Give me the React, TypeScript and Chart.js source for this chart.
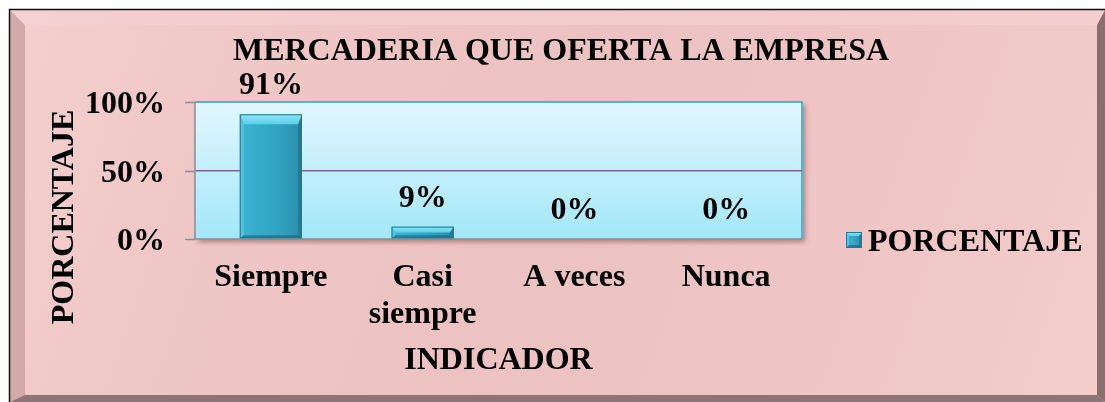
import React, { useEffect, useRef } from "react";
import { Chart, registerables } from "chart.js";

Chart.register(...registerables);

const categories: string[][] = [["Siempre"], ["Casi", "siempre"], ["A veces"], ["Nunca"]];
const porcentaje: number[] = [91, 9, 0, 0];
const valueLabels: string[] = ["91%", "9%", "0%", "0%"];
const yTicks: number[] = [0, 50, 100];
const yTickLabels: string[] = ["0%", "50%", "100%"];
const chartTitle = "MERCADERIA QUE OFERTA LA EMPRESA";
const xTitle = "INDICADOR";
const yTitle = "PORCENTAJE";
const seriesName = "PORCENTAJE";

const W = 1105;
const H = 402;
const FONT = "bold 32px 'Liberation Serif', 'Times New Roman', serif";

function drawBevelBox(
  ctx: CanvasRenderingContext2D,
  x0: number,
  y0: number,
  x1: number,
  y1: number,
  bt: number,
  bs: number
) {
  const w = x1 - x0;
  const h = y1 - y0;
  if (h <= 0) return;
  const t = Math.min(bt, h / 2);
  const s = Math.min(bs, w / 2, h / 2);
  const bb = Math.min(3, h / 4);
  const g = ctx.createLinearGradient(x0, 0, x1, 0);
  g.addColorStop(0, "#3ab4d4");
  g.addColorStop(0.5, "#33a7c6");
  g.addColorStop(1, "#2b90ac");
  ctx.fillStyle = g;
  ctx.fillRect(x0, y0, w, h);
  // left bevel
  ctx.beginPath();
  ctx.moveTo(x0, y0);
  ctx.lineTo(x0 + s, y0 + t);
  ctx.lineTo(x0 + s, y1 - bb);
  ctx.lineTo(x0, y1);
  ctx.closePath();
  ctx.fillStyle = "rgba(110,215,238,0.5)";
  ctx.fill();
  // right bevel
  ctx.beginPath();
  ctx.moveTo(x1, y0);
  ctx.lineTo(x1, y1);
  ctx.lineTo(x1 - s, y1 - bb);
  ctx.lineTo(x1 - s, y0 + t);
  ctx.closePath();
  ctx.fillStyle = "rgba(20,90,110,0.4)";
  ctx.fill();
  // top bevel
  ctx.beginPath();
  ctx.moveTo(x0, y0);
  ctx.lineTo(x1, y0);
  ctx.lineTo(x1 - s, y0 + t);
  ctx.lineTo(x0 + s, y0 + t);
  ctx.closePath();
  const tg = ctx.createLinearGradient(0, y0, 0, y0 + t);
  tg.addColorStop(0, "#8ae8f6");
  tg.addColorStop(1, "#5ccfea");
  ctx.fillStyle = tg;
  ctx.fill();
  // bottom bevel
  ctx.beginPath();
  ctx.moveTo(x0, y1);
  ctx.lineTo(x1, y1);
  ctx.lineTo(x1 - s, y1 - bb);
  ctx.lineTo(x0 + s, y1 - bb);
  ctx.closePath();
  ctx.fillStyle = "rgba(20,80,100,0.5)";
  ctx.fill();
  ctx.strokeStyle = "#237a90";
  ctx.lineWidth = 1;
  ctx.strokeRect(x0 + 0.5, y0 + 0.5, w - 1, h - 1);
}

const framePlugin = {
  id: "frame",
  beforeDraw(chart: any) {
    const ctx: CanvasRenderingContext2D = chart.ctx;
    const { left, top, right, bottom } = chart.chartArea;
    ctx.save();
    ctx.fillStyle = "#ffffff";
    ctx.fillRect(0, 0, W, H);
    ctx.fillStyle = "#f0c6c6";
    ctx.fillRect(9, 9, W - 9, H - 9);
    const mg = ctx.createLinearGradient(0, 9, W, H);
    mg.addColorStop(0, "rgba(255,225,225,0.35)");
    mg.addColorStop(0.5, "rgba(220,170,170,0.15)");
    mg.addColorStop(1, "rgba(255,220,220,0.3)");
    ctx.fillStyle = mg;
    ctx.fillRect(9, 9, W - 9, H - 9);
    // left bevel
    ctx.beginPath();
    ctx.moveTo(10, 10);
    ctx.lineTo(25, 25);
    ctx.lineTo(25, 395);
    ctx.lineTo(10, H);
    ctx.closePath();
    ctx.fillStyle = "#d3a8a9";
    ctx.fill();
    // top bevel
    ctx.beginPath();
    ctx.moveTo(10, 10);
    ctx.lineTo(W, 10);
    ctx.lineTo(1097, 25);
    ctx.lineTo(25, 25);
    ctx.closePath();
    ctx.fillStyle = "rgba(248,212,212,0.5)";
    ctx.fill();
    // right bevel
    ctx.beginPath();
    ctx.moveTo(W, 10);
    ctx.lineTo(W, H);
    ctx.lineTo(1097, 395);
    ctx.lineTo(1097, 25);
    ctx.closePath();
    ctx.fillStyle = "#876f70";
    ctx.fill();
    // bottom bevel
    ctx.beginPath();
    ctx.moveTo(10, H);
    ctx.lineTo(W, H);
    ctx.lineTo(1097, 395);
    ctx.lineTo(25, 395);
    ctx.closePath();
    ctx.fillStyle = "#8e7475";
    ctx.fill();
    // black border
    ctx.strokeStyle = "#111";
    ctx.lineWidth = 1.5;
    ctx.beginPath();
    ctx.moveTo(9.5, H);
    ctx.lineTo(9.5, 9.5);
    ctx.lineTo(W, 9.5);
    ctx.stroke();

    // plot area with shadow
    ctx.save();
    ctx.shadowColor = "rgba(90,40,40,0.45)";
    ctx.shadowBlur = 5;
    ctx.shadowOffsetX = 3;
    ctx.shadowOffsetY = 3;
    const pg = ctx.createLinearGradient(0, top, 0, bottom);
    pg.addColorStop(0, "#e2f7fd");
    pg.addColorStop(1, "#a3e7f9");
    ctx.fillStyle = pg;
    ctx.fillRect(left, top, right - left, bottom - top);
    ctx.restore();
    ctx.strokeStyle = "#55b3ce";
    ctx.lineWidth = 2;
    ctx.beginPath();
    ctx.moveTo(left, top);
    ctx.lineTo(right, top);
    ctx.lineTo(right, bottom);
    ctx.stroke();
    ctx.restore();
  },
  afterDatasetsDraw(chart: any) {
    const ctx: CanvasRenderingContext2D = chart.ctx;
    const { left, right, top, bottom } = chart.chartArea;
    const yScale = chart.scales.y;
    const xScale = chart.scales.x;
    ctx.save();
    ctx.strokeStyle = "#8d8d8d";
    ctx.lineWidth = 1.5;
    ctx.beginPath();
    ctx.moveTo(left, top);
    ctx.lineTo(left, bottom);
    ctx.lineTo(right, bottom);
    ctx.stroke();
    ctx.beginPath();
    yTicks.forEach((v) => {
      const py = Math.round(yScale.getPixelForValue(v)) + 0.5;
      ctx.moveTo(left - 10, py);
      ctx.lineTo(left, py);
    });
    ctx.stroke();

    const meta = chart.getDatasetMeta(0);
    meta.data.forEach((bar: any) => {
      const x0 = bar.x - bar.width / 2;
      const x1 = bar.x + bar.width / 2;
      drawBevelBox(ctx, x0, bar.y, x1, bar.base, 10, 4);
    });

    ctx.fillStyle = "#000";
    ctx.font = FONT;
    ctx.textAlign = "center";
    ctx.textBaseline = "alphabetic";
    meta.data.forEach((bar: any, i: number) => {
      ctx.fillText(valueLabels[i], bar.x, bar.y - 20);
    });
    ctx.textAlign = "right";
    yTicks.forEach((v, i) => {
      ctx.fillText(yTickLabels[i], 165, yScale.getPixelForValue(v) + 11);
    });
    ctx.textAlign = "center";
    categories.forEach((lines, i) => {
      const cx = xScale.getPixelForValue(i);
      lines.forEach((ln, j) => {
        ctx.fillText(ln, cx, 286 + j * 37);
      });
    });
    ctx.fillText(xTitle, (left + right) / 2, 369);
    ctx.fillText(chartTitle, 561, 60);
    ctx.save();
    ctx.translate(73, 217);
    ctx.rotate(-Math.PI / 2);
    ctx.textAlign = "center";
    ctx.fillText(yTitle, 0, 0);
    ctx.restore();
    drawBevelBox(ctx, 846, 232, 862, 248, 4, 3);
    ctx.fillStyle = "#000";
    ctx.textAlign = "left";
    ctx.fillText(seriesName, 868, 251);
    ctx.restore();
  },
};

export default function App() {
  const ref = useRef<HTMLCanvasElement | null>(null);
  useEffect(() => {
    if (!ref.current) return;
    const chart = new Chart(ref.current, {
      type: "bar",
      data: {
        labels: categories.map((c) => c.join(" ")),
        datasets: [
          {
            label: seriesName,
            data: porcentaje,
            backgroundColor: "rgba(0,0,0,0)",
            borderWidth: 0,
            barPercentage: 0.41,
            categoryPercentage: 1,
          },
        ],
      },
      options: {
        responsive: false,
        animation: false,
        devicePixelRatio: 1,
        layout: { padding: { left: 195, top: 102, right: W - 802, bottom: H - 239 } },
        plugins: {
          legend: { display: false },
          title: { display: false },
          tooltip: { enabled: false },
        },
        scales: {
          x: {
            display: true,
            grid: { display: false, drawTicks: false },
            border: { display: false },
            ticks: { display: false },
          },
          y: {
            display: true,
            min: 0,
            max: 100,
            ticks: { display: false, stepSize: 50 },
            border: { display: false },
            grid: {
              drawTicks: false,
              lineWidth: 1.5,
              color: (c: any) => (c.tick && c.tick.value === 50 ? "#8a5aa8" : "rgba(0,0,0,0)"),
            },
          },
        },
      },
      plugins: [framePlugin],
    });
    return () => chart.destroy();
  }, []);
  return (
    <div style={{ position: "absolute", left: 0, top: 0, width: W, height: H }}>
      <canvas ref={ref} width={W} height={H} style={{ width: W, height: H }} />
    </div>
  );
}
